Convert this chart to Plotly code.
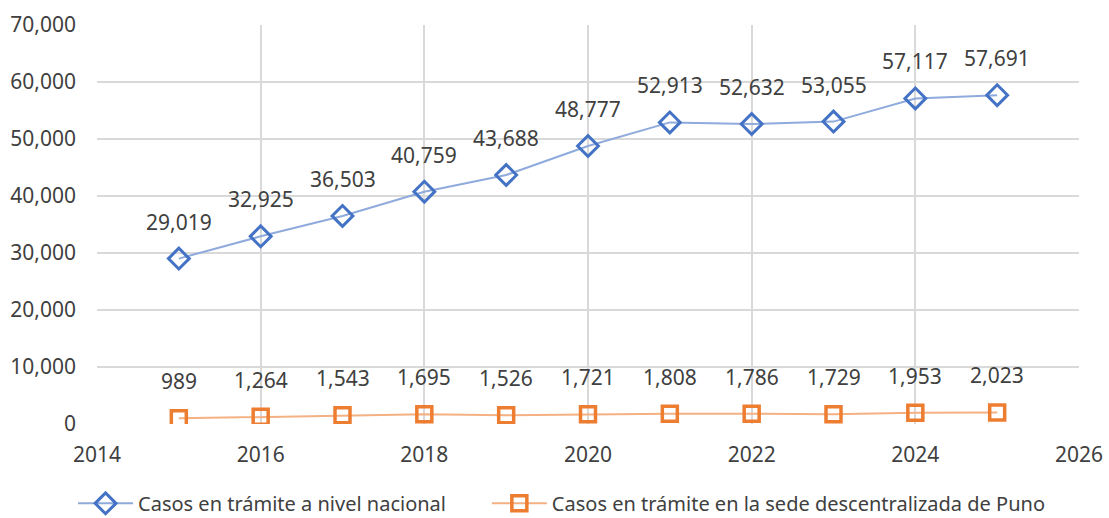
import plotly.graph_objects as go

years = [2015, 2016, 2017, 2018, 2019, 2020, 2021, 2022, 2023, 2024, 2025]
nacional = [29019, 32925, 36503, 40759, 43688, 48777, 52913, 52632, 53055, 57117, 57691]
puno = [989, 1264, 1543, 1695, 1526, 1721, 1808, 1786, 1729, 1953, 2023]
names = ["Casos en trámite a nivel nacional", "Casos en trámite en la sede descentralizada de Puno"]
x_ticks = [2014, 2016, 2018, 2020, 2022, 2024, 2026]
y_ticks = [0, 10000, 20000, 30000, 40000, 50000, 60000, 70000]

FONT = "Noto Sans"
TXT = "#404040"

fig = go.Figure()
fig.add_trace(go.Scatter(
    x=years, y=nacional, name=names[0], mode="lines+markers", legend="legend",
    line=dict(color="#8faadc", width=2),
    marker=dict(symbol="diamond-open", size=16, color="#4472c4", line=dict(width=3, color="#4472c4")),
))
fig.add_trace(go.Scatter(
    x=years, y=puno, name=names[1], mode="lines+markers", legend="legend2",
    line=dict(color="#f4b183", width=2),
    marker=dict(symbol="square-open", size=15, color="#ed7d31", line=dict(width=3.5, color="#ed7d31")),
))

annotations = []
for series in (nacional, puno):
    for xv, yv in zip(years, series):
        annotations.append(dict(
            x=xv, y=yv, text=f"{yv:,}", showarrow=False, yshift=37,
            font=dict(family=FONT, size=21, color=TXT),
        ))

legend_common = dict(orientation="h", y=-0.15, yanchor="top", xanchor="left",
                     font=dict(family=FONT, size=20, color=TXT), itemwidth=55,
                     bgcolor="rgba(0,0,0,0)")

fig.update_layout(
    width=1109, height=518,
    margin=dict(l=97, r=30, t=25, b=94, autoexpand=False),
    plot_bgcolor="white", paper_bgcolor="white",
    font=dict(family=FONT, size=21, color=TXT),
    annotations=annotations,
    showlegend=True,
    legend=dict(x=-0.0244, **legend_common),
    legend2=dict(x=0.397, **legend_common),
    xaxis=dict(range=[2014, 2026], tickvals=x_ticks, ticktext=[str(t) for t in x_ticks],
               showgrid=True, gridcolor="#d9d9d9", gridwidth=1.5, zeroline=False,
               showline=False, ticks="", tickfont=dict(size=21), automargin=False,
               ticklabelstandoff=16),
    yaxis=dict(range=[0, 70000], tickvals=y_ticks, ticktext=[f"{t:,}" for t in y_ticks],
               showgrid=True, gridcolor="#d9d9d9", gridwidth=1.5, zeroline=False,
               showline=False, ticks="", tickfont=dict(size=21), automargin=False,
               ticklabelstandoff=20),
)

fig.write_html("out.html", config={"displayModeBar": False},
               post_script="document.body.style.margin='0';document.body.style.overflow='hidden';")
